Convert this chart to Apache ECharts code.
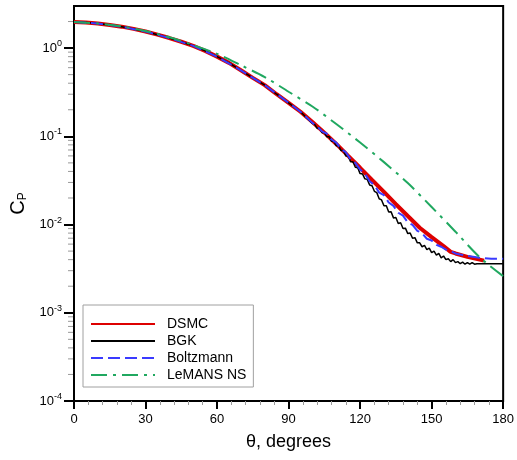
<!DOCTYPE html>
<html><head><meta charset="utf-8">
<script src="https://cdn.jsdelivr.net/npm/echarts@6/dist/echarts.min.js"></script>
<style>html,body{margin:0;padding:0;background:#fff}#c{width:517px;height:460px}</style>
</head><body><div id="c"></div>
<script>
// ---- data ----
const seriesNames = ['DSMC', 'BGK', 'Boltzmann', 'LeMANS NS'];
const xTicks = [0, 30, 60, 90, 120, 150, 180];
const yMinorTicks = [2e-4,3e-4,4e-4,5e-4,6e-4,7e-4,8e-4,9e-4,
  2e-3,3e-3,4e-3,5e-3,6e-3,7e-3,8e-3,9e-3,
  2e-2,3e-2,4e-2,5e-2,6e-2,7e-2,8e-2,9e-2,
  0.2,0.3,0.4,0.5,0.6,0.7,0.8,0.9, 2];

const dsmcTheta = [0,5,10,15,20,25,30,35,40,45,50,55,60,65,70,75,80,85,90,95,100,105,110,115,120,125,130,135,140,145,150,155,158,160,165,172];
const dsmcCp = [1.97,1.95,1.90,1.83,1.75,1.65,1.54,1.42,1.30,1.18,1.06,0.93,0.80,0.68,0.56,0.46,0.38,0.30,0.24,0.19,0.145,0.11,0.082,0.060,0.044,0.032,0.0235,0.017,0.0125,0.0092,0.0072,0.0057,0.0049,0.0047,0.0043,0.0039];

const bgkTheta = [0,5,10,15,20,25,30,35,40,45,50,55,60,65,70,75,80,85,90,95,100,
  101,102,103,104,105,106,107,108,109,110,111,112,113,114,115,116,117,118,119,120,
  121,122,123,124,125,126,127,128,129,130,131,132,133,134,135,136,137,138,139,140,
  141,142,143,144,145,146,147,148,149,150,151,152,153,154,155,156,157,158,159,160,
  161,162,163,164,165,166,167,168,169,170,175,180];
const bgkCp = [1.97,1.95,1.90,1.83,1.75,1.65,1.54,1.42,1.30,1.18,1.06,0.93,0.80,0.68,0.56,0.46,0.38,0.30,0.24,0.19,0.140,
  0.136,0.123,0.124,0.110,0.111,0.099,0.099,0.088,0.088,0.078,0.078,0.069,0.069,0.060,0.060,0.0515,0.0515,0.0446,0.0440,0.0378,
  0.0375,0.0330,0.0325,0.0281,0.0275,0.0238,0.0230,0.0196,0.0190,0.0163,0.0163,0.0139,0.0140,0.0119,0.0120,0.0103,0.0105,0.0090,0.0091,0.0079,
  0.0080,0.0070,0.0071,0.0062,0.0062,0.0056,0.0058,0.0052,0.0054,0.0048,0.0050,0.0045,0.0047,0.0042,0.0044,0.0040,0.0041,0.0038,0.0040,0.0037,
  0.0038,0.0036,0.00375,0.00355,0.0037,0.00355,0.0037,0.00355,0.0036,0.0036,0.0036,0.0036];

const boltzTheta = [0,10,20,30,40,50,60,70,80,90,95,100,102,104,106,108,110,112,114,116,118,120,122,124,126,128,130,132,134,136,138,140,142,144,146,148,150,152,154,156,158,160,165,170,175,180];
const boltzCp = [1.97,1.90,1.75,1.54,1.30,1.06,0.80,0.56,0.38,0.24,0.19,0.142,0.13,0.114,0.107,0.092,0.085,0.072,0.066,0.055,0.050,0.042,0.038,0.031,0.028,0.023,0.0215,0.0178,0.0163,0.0136,0.0126,0.0106,0.0099,0.0085,0.0080,0.0069,0.0066,0.0059,0.0056,0.0052,0.0050,0.0047,0.0044,0.0042,0.0041,0.0041];

const lemansTheta = [0,10,20,30,40,50,60,70,80,90,100,110,120,130,140,150,160,170,180];
const lemansCp = [1.97,1.90,1.76,1.56,1.33,1.08,0.86,0.64,0.47,0.32,0.218,0.138,0.085,0.051,0.0295,0.0158,0.0083,0.0043,0.0026];

const pair = (xs, ys) => xs.map((x, i) => [x, ys[i]]);
const FONT = 'Liberation Sans, Arial, sans-serif';

const chart = echarts.init(document.getElementById('c'), null, {renderer: 'canvas'});
chart.setOption({
  backgroundColor: '#fff',
  animation: false,
  grid: {left: 74, right: 12, top: 6, bottom: 59, show: true, borderColor: '#000', borderWidth: 2, backgroundColor: 'transparent'},
  legend: {
    data: seriesNames,
    orient: 'vertical', left: 83, top: 305,
    padding: [12, 7, 5, 7], itemGap: 3, itemWidth: 64, itemHeight: 14,
    borderColor: '#a0a0a0', borderWidth: 1, backgroundColor: '#fff',
    itemStyle: {opacity: 0},
    textStyle: {fontFamily: FONT, fontSize: 14, color: '#000', padding: [0, 0, 0, 7]},
    selectedMode: false
  },
  xAxis: {
    type: 'value', min: 0, max: 180, interval: 30,
    name: 'θ, degrees', nameLocation: 'middle', nameGap: 32,
    nameTextStyle: {fontFamily: FONT, fontSize: 18, color: '#000'},
    axisLine: {lineStyle: {color: '#000', width: 2}},
    axisTick: {length: 8, lineStyle: {color: '#000', width: 2}},
    minorTick: {show: true, splitNumber: 5, length: 4, lineStyle: {color: '#999', width: 1}},
    splitLine: {show: false},
    axisLabel: {fontFamily: FONT, fontSize: 13, color: '#000', margin: 12,
      formatter: v => xTicks.indexOf(v) >= 0 ? String(v) : ''}
  },
  yAxis: {
    type: 'log', logBase: 10, min: 1e-4, max: 3,
    name: '{c|C}{p|P}', nameLocation: 'middle', nameGap: 42, nameRotate: 90,
    nameTextStyle: {fontFamily: FONT, color: '#000',
      rich: {c: {fontFamily: FONT, fontSize: 20, color: '#000'},
             p: {fontFamily: FONT, fontSize: 12, color: '#000', padding: [8, 0, 0, 0]}}},
    axisLine: {onZero: false, lineStyle: {color: '#000', width: 2}},
    axisTick: {length: 10, lineStyle: {color: '#000', width: 2}},
    splitLine: {show: false},
    axisLabel: {
      showMaxLabel: false, margin: 12, fontFamily: FONT, color: '#000',
      formatter: v => {
        const e = Math.round(Math.log10(v));
        if (Math.abs(Math.log10(v) - e) > 1e-6) return '';
        return '{b|10}{s|' + e + '}';
      },
      rich: {b: {fontFamily: FONT, fontSize: 13, color: '#000', lineHeight: 18},
             s: {fontFamily: FONT, fontSize: 9, color: '#000', lineHeight: 10, verticalAlign: 'top'}}
    }
  },
  series: [
    {name: 'DSMC', type: 'line', data: pair(dsmcTheta, dsmcCp), showSymbol: false, symbol: 'none', z: 2,
     lineStyle: {color: '#dd0000', width: 4}, itemStyle: {color: '#dd0000'}},
    {name: 'BGK', type: 'line', data: pair(bgkTheta, bgkCp), showSymbol: false, symbol: 'none', z: 3,
     lineStyle: {color: '#000', width: 1.5}, itemStyle: {color: '#000'}},
    {name: 'Boltzmann', type: 'line', data: pair(boltzTheta, boltzCp), showSymbol: false, symbol: 'none', z: 4,
     lineStyle: {color: '#3a3aff', width: 2, type: [12, 5]}, itemStyle: {color: '#3a3aff'}},
    {name: 'LeMANS NS', type: 'line', data: pair(lemansTheta, lemansCp), showSymbol: false, symbol: 'none', z: 5, smooth: 0.3,
     lineStyle: {color: '#20a860', width: 2, type: [16, 6, 3, 6]}, itemStyle: {color: '#20a860'}},
    {name: 'yMinor', type: 'custom', silent: true, clip: false, z: 6,
     data: yMinorTicks.map(v => [0, v]),
     renderItem: (params, api) => {
       const p = api.coord([api.value(0), api.value(1)]);
       return {type: 'line', shape: {x1: p[0] - 6, y1: p[1], x2: p[0] - 1, y2: p[1]},
               style: {stroke: '#999', lineWidth: 1}};
     }}
  ]
});
</script></body></html>
